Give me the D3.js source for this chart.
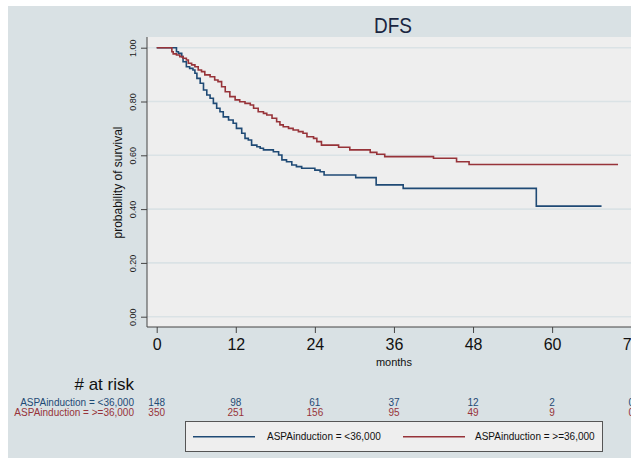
<!DOCTYPE html>
<html>
<head>
<meta charset="utf-8">
<script src="https://cdn.jsdelivr.net/npm/d3@7"></script>
<style>
body { margin: 0; background: #ffffff; }
text { font-family: "Liberation Sans", Arial, sans-serif; }
</style>
</head>
<body>
<svg id="chart" width="631" height="458"></svg>
<script>

var groupLabels = ["ASPAinduction = <36,000", "ASPAinduction = >=36,000"];
var groupColors = ["#1f4a75", "#973339"];

// KM steps: [months, survival]
var lowAspa = [[0, 1], [2.8, 1], [3.0, 0.985], [3.3, 0.979], [3.8, 0.967], [4.0, 0.948], [4.5, 0.929], [5.0, 0.923],
    [5.5, 0.917], [5.8, 0.905], [6.1, 0.886], [6.6, 0.868], [7.1, 0.843], [7.6, 0.824], [8.1, 0.812], [8.6, 0.793],
    [9.1, 0.775], [9.6, 0.762], [10.1, 0.743], [10.9, 0.731], [11.6, 0.719], [12.1, 0.700], [12.9, 0.682],
    [13.4, 0.663], [13.9, 0.657], [14.4, 0.638], [15.2, 0.632], [15.7, 0.626], [16.2, 0.620], [17.7, 0.613],
    [18.5, 0.601], [19.0, 0.583], [19.7, 0.576], [20.5, 0.564], [21.2, 0.558], [22.0, 0.552], [24.0, 0.545],
    [24.8, 0.539], [25.4, 0.527], [30.2, 0.517], [33.3, 0.490], [37.4, 0.477], [57.6, 0.411], [67.5, 0.411]];

var highAspa = [[0, 1], [1.8, 1], [2.3, 0.985], [2.5, 0.977], [3.0, 0.973], [3.5, 0.967], [4.0, 0.961], [4.5, 0.954],
    [4.8, 0.942], [5.3, 0.936], [5.8, 0.929], [6.3, 0.917], [6.8, 0.911], [7.3, 0.899], [8.1, 0.892], [8.8, 0.880],
    [9.3, 0.874], [9.85, 0.855], [10.4, 0.836], [11.1, 0.818], [11.9, 0.806], [12.6, 0.799], [13.4, 0.793],
    [14.2, 0.787], [14.7, 0.775], [15.4, 0.762], [16.2, 0.756], [16.7, 0.750], [17.5, 0.738], [18.2, 0.725],
    [18.7, 0.713], [19.2, 0.706], [20.0, 0.700], [20.7, 0.694], [21.5, 0.688], [22.2, 0.682], [22.8, 0.669],
    [23.8, 0.663], [24.3, 0.651], [25.0, 0.638], [27.6, 0.630], [29.3, 0.620], [32.4, 0.611], [33.4, 0.604],
    [34.6, 0.595], [42.0, 0.589], [45.5, 0.576], [47.4, 0.566], [70.0, 0.566]];

var monthTicks = [0, 12, 24, 36, 48, 60, 72];
var survTicks = [0, 0.2, 0.4, 0.6, 0.8, 1.0];
var riskLow = [148, 98, 61, 37, 12, 2, 0];
var riskHigh = [350, 251, 156, 95, 49, 9, 0];

var svg = d3.select("#chart");

var x = d3.scaleLinear().domain([0, 72]).range([156.7, 631.2]);
var y = d3.scaleLinear().domain([0, 1]).range([316.7, 47.7]);

var plotLeft = 147, plotTop = 37, plotBottom = 327;

// backgrounds
svg.append("rect").attr("x", 8).attr("y", 6).attr("width", 623).attr("height", 452).attr("fill", "#d9e1e4");
svg.append("rect").attr("x", plotLeft).attr("y", plotTop).attr("width", 631 - plotLeft).attr("height", plotBottom - plotTop)
    .attr("fill", "#eeeeee");

// grid
svg.selectAll(".grid").data(survTicks).enter().append("line")
    .attr("x1", plotLeft).attr("x2", 631)
    .attr("y1", function (d) { return y(d); }).attr("y2", function (d) { return y(d); })
    .attr("stroke", "#dae2e5").attr("stroke-width", 1.6);

// title
svg.append("text").attr("x", 393).attr("y", 33).attr("text-anchor", "middle")
    .attr("font-size", 22).attr("fill", "#1a2540")
    .attr("textLength", 38).attr("lengthAdjust", "spacingAndGlyphs").text("DFS");

// y axis
var yAxis = d3.axisLeft(y).tickValues(survTicks).tickFormat(d3.format(".2f")).tickSize(6).tickPadding(3);
var gy = svg.append("g").attr("transform", "translate(" + plotLeft + ",0)").call(yAxis);
gy.select(".domain").attr("d", "M0," + plotTop + "V" + plotBottom).attr("stroke", "#444");
gy.selectAll(".tick line").attr("stroke", "#444");
gy.selectAll(".tick text")
    .attr("font-size", 9).attr("fill", "#222")
    .attr("text-anchor", "middle").attr("dy", null).attr("x", null)
    .attr("transform", "translate(-14,0) rotate(-90)").attr("y", 3.2);

svg.append("text").attr("transform", "translate(122,182.5) rotate(-90)")
    .attr("text-anchor", "middle").attr("font-size", 12).attr("fill", "#111")
    .text("probability of survival");

// x axis
var xAxis = d3.axisBottom(x).tickValues(monthTicks).tickSize(6).tickPadding(6).tickFormat(d3.format("d"));
var gx = svg.append("g").attr("transform", "translate(0," + plotBottom + ")").call(xAxis);
gx.select(".domain").attr("d", "M" + plotLeft + ",0H631").attr("stroke", "#444");
gx.selectAll(".tick line").attr("stroke", "#444");
gx.selectAll(".tick text").attr("font-size", 16).attr("fill", "#111");

svg.append("text").attr("x", x(36)).attr("y", 366).attr("text-anchor", "middle")
    .attr("font-size", 11).attr("fill", "#111").text("months");

// curves
var line = d3.line()
    .x(function (d) { return x(d[0]); })
    .y(function (d) { return y(d[1]); })
    .curve(d3.curveStepAfter);

[lowAspa, highAspa].forEach(function (series, i) {
    svg.append("path").datum(series).attr("d", line)
        .attr("fill", "none").attr("stroke", groupColors[i]).attr("stroke-width", 1.6);
});

// number at risk
svg.append("text").attr("x", 134).attr("y", 390).attr("text-anchor", "end")
    .attr("font-size", 17).attr("fill", "#111").text("# at risk");

[riskLow, riskHigh].forEach(function (row, i) {
    var rowY = 405.5 + i * 10;
    svg.append("text").attr("x", 134).attr("y", rowY).attr("text-anchor", "end")
        .attr("font-size", 10).attr("fill", groupColors[i]).text(groupLabels[i]);
    svg.selectAll(".risk" + i).data(row).enter().append("text")
        .attr("x", function (d, j) { return x(monthTicks[j]); })
        .attr("y", rowY).attr("text-anchor", "middle")
        .attr("font-size", 10).attr("fill", groupColors[i])
        .text(function (d) { return d; });
});

// legend
svg.append("rect").attr("x", 185.5).attr("y", 421.5).attr("width", 417).attr("height", 30)
    .attr("fill", "#eeeeee").attr("stroke", "#555").attr("stroke-width", 1);
var legendX = [[193, 255, 267], [403, 465, 475]];
groupLabels.forEach(function (lbl, i) {
    svg.append("line").attr("x1", legendX[i][0]).attr("x2", legendX[i][1])
        .attr("y1", 436.7).attr("y2", 436.7)
        .attr("stroke", groupColors[i]).attr("stroke-width", 1.6);
    svg.append("text").attr("x", legendX[i][2]).attr("y", 440.3)
        .attr("font-size", 10).attr("fill", "#111").text(lbl);
});

</script>
</body>
</html>
